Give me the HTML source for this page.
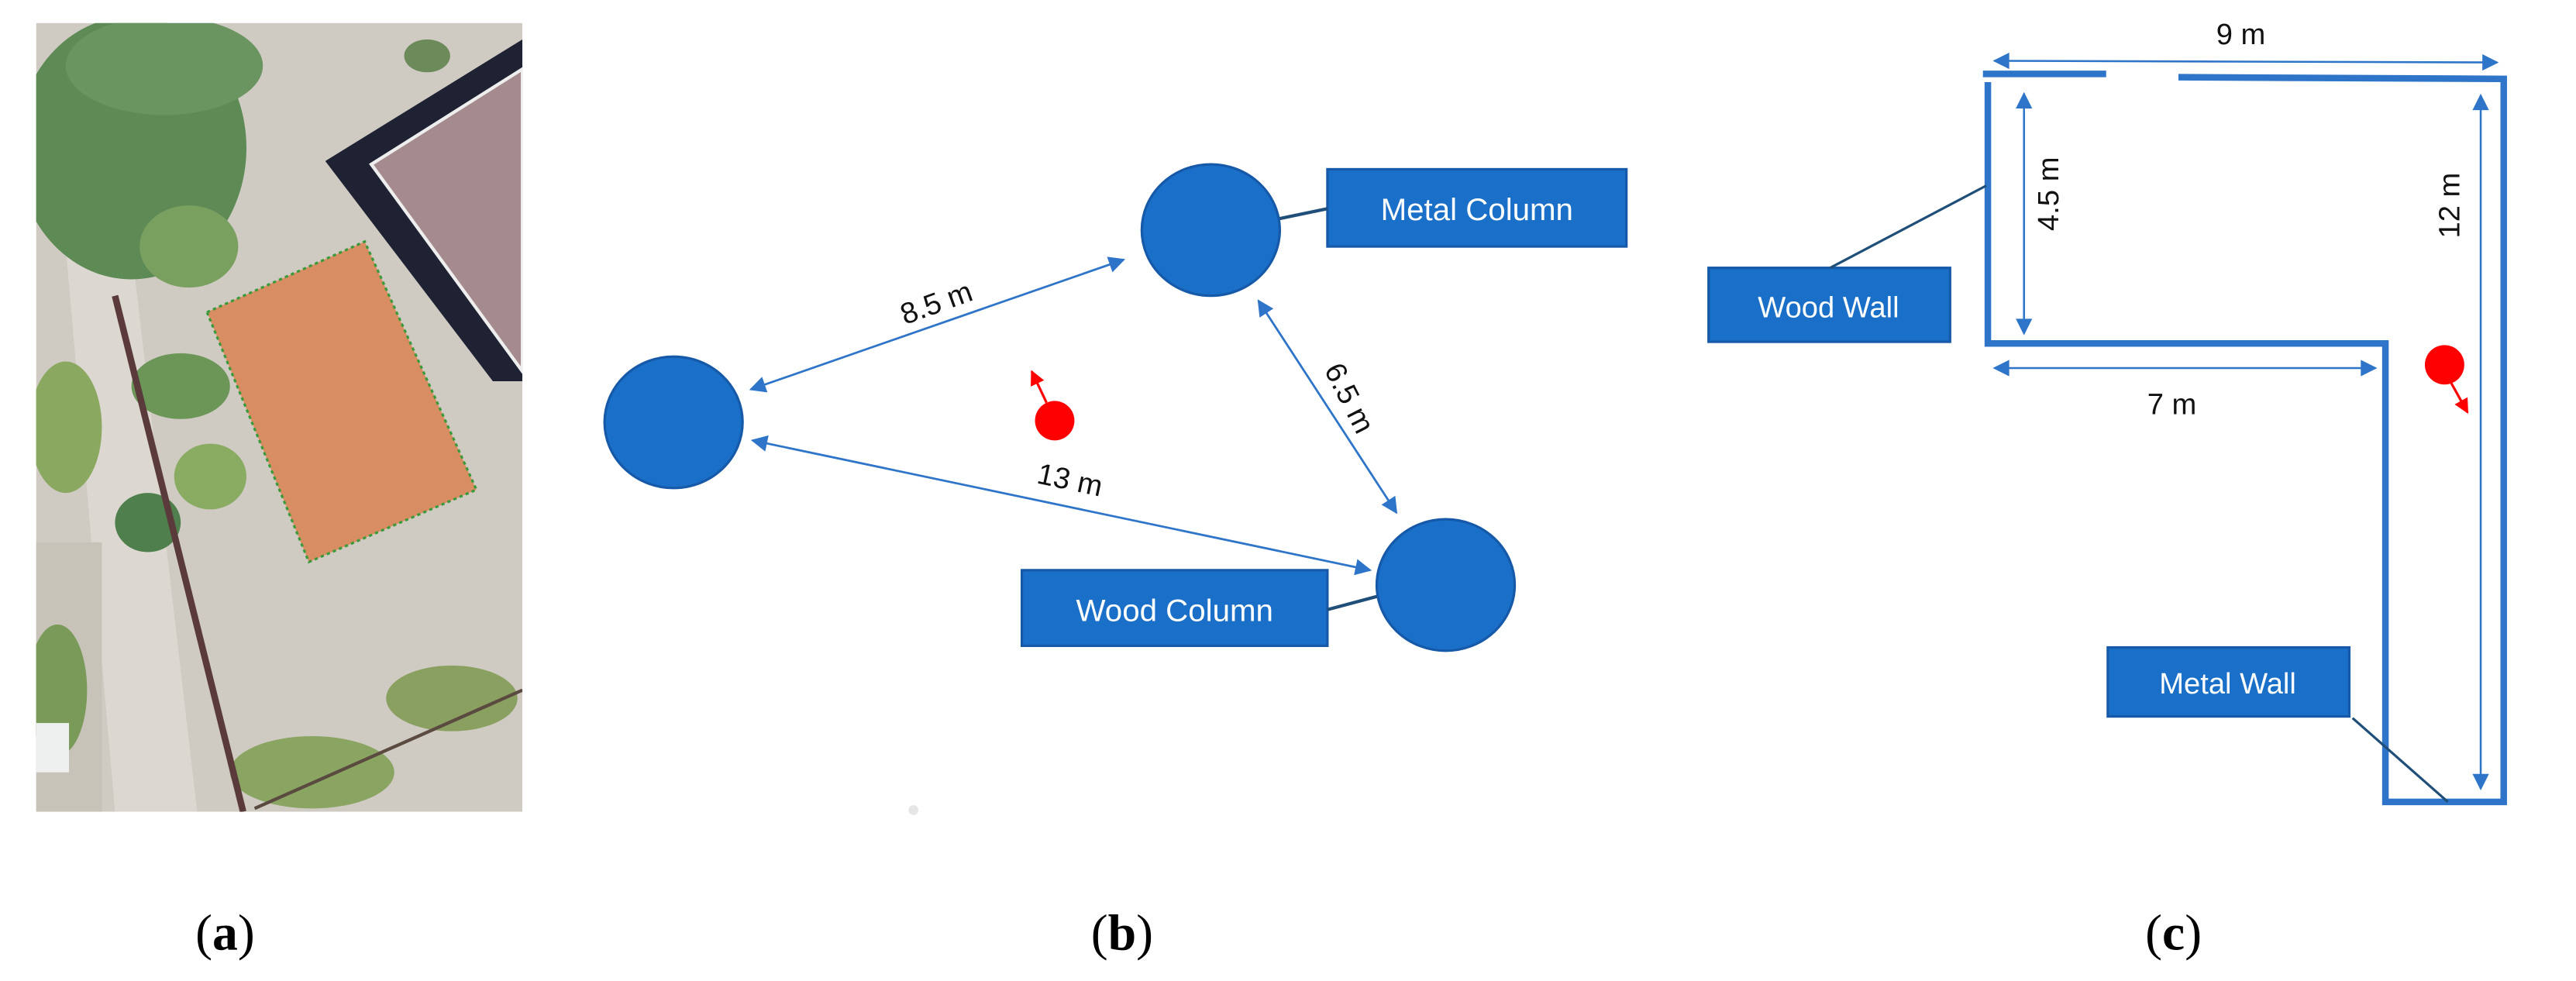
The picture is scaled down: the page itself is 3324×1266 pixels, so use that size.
<!DOCTYPE html>
<html><head><meta charset="utf-8"><style>
html,body{margin:0;padding:0;background:#fff;}
svg{display:block;}
text{font-family:"Liberation Sans",sans-serif;}
</style></head><body>
<svg width="3324" height="1266" viewBox="0 0 1568 597" preserveAspectRatio="none" xmlns="http://www.w3.org/2000/svg">
<defs>
<marker id="ab" viewBox="0 0 10 10" refX="9" refY="5" markerUnits="userSpaceOnUse" markerWidth="11" markerHeight="10" orient="auto-start-reverse"><path d="M0,0 L10,5 L0,10 z" fill="#2e75c9"/></marker>
<marker id="ar" viewBox="0 0 10 10" refX="9" refY="5" markerUnits="userSpaceOnUse" markerWidth="10" markerHeight="9" orient="auto"><path d="M0,0 L10,5 L0,10 z" fill="#f00"/></marker>
<clipPath id="ph"><rect x="22" y="14" width="296" height="480"/></clipPath>
</defs>
<rect width="1568" height="597" fill="#fff"/>
<g clip-path="url(#ph)">
<rect x="22" y="14" width="296" height="480" fill="#cfcbc3"/>
<polygon points="40,150 80,150 120,494 70,494" fill="#dcd8d1"/>
<rect x="22" y="330" width="40" height="164" fill="#c8c3b9"/>
<ellipse cx="80" cy="90" rx="70" ry="80" fill="#5d8a55"/>
<ellipse cx="100" cy="40" rx="60" ry="30" fill="#6a9460"/>
<ellipse cx="115" cy="150" rx="30" ry="25" fill="#7aa060"/>
<ellipse cx="110" cy="235" rx="30" ry="20" fill="#6c9558"/>
<ellipse cx="128" cy="290" rx="22" ry="20" fill="#8aac62"/>
<ellipse cx="90" cy="318" rx="20" ry="18" fill="#4f7f4c"/>
<ellipse cx="40" cy="260" rx="22" ry="40" fill="#8aa860"/>
<ellipse cx="35" cy="420" rx="18" ry="40" fill="#7a9a5a"/>
<ellipse cx="190" cy="470" rx="50" ry="22" fill="#8aa462"/>
<ellipse cx="275" cy="425" rx="40" ry="20" fill="#8aa060"/>
<ellipse cx="260" cy="34" rx="14" ry="10" fill="#6c8a5a"/>
<line x1="70" y1="180" x2="148" y2="494" stroke="#5a3a3a" stroke-width="4"/>
<line x1="155" y1="492" x2="318" y2="420" stroke="#5a4a40" stroke-width="2"/>
<polygon points="198,98 318,24 318,232 300,232" fill="#1e2233"/>
<polygon points="226,100 318,42 318,226" fill="#a68b8e" stroke="#eee" stroke-width="2"/>
<polygon points="126,190 222,147 290,298 188,342" fill="#d98d62" stroke="#3a9a3a" stroke-width="1.5" stroke-dasharray="2,2"/>
<rect x="22" y="440" width="20" height="30" fill="#eef0f0"/>
</g>
<text x="137" y="578" text-anchor="middle" font-size="31" fill="#000" style="font-family:'Liberation Serif',serif">(<tspan font-weight="bold">a</tspan>)</text>
<text x="683" y="578" text-anchor="middle" font-size="31" fill="#000" style="font-family:'Liberation Serif',serif">(<tspan font-weight="bold">b</tspan>)</text>
<text x="1323" y="578" text-anchor="middle" font-size="31" fill="#000" style="font-family:'Liberation Serif',serif">(<tspan font-weight="bold">c</tspan>)</text>
<circle cx="556" cy="493" r="3" fill="#e6e6e6"/>
<g fill="#1a6fc8" stroke="#1559a8" stroke-width="1.5">
<ellipse cx="410" cy="257" rx="42" ry="40"/>
<ellipse cx="737" cy="140" rx="42" ry="40"/>
<ellipse cx="880" cy="356" rx="42" ry="40"/>
<rect x="808" y="103" width="182" height="47"/>
<rect x="622" y="347" width="186" height="46"/>
</g>
<line x1="779" y1="133" x2="808" y2="127" stroke="#1f4e79" stroke-width="2"/>
<line x1="808" y1="371" x2="838" y2="363" stroke="#1f4e79" stroke-width="2"/>
<text x="899" y="134" text-anchor="middle" font-size="19" fill="#fff">Metal Column</text>
<text x="715" y="378" text-anchor="middle" font-size="19" fill="#fff">Wood Column</text>
<g stroke="#2e75c9" stroke-width="1.3" marker-start="url(#ab)" marker-end="url(#ab)">
<line x1="457" y1="237" x2="684" y2="158"/>
<line x1="766" y1="183" x2="850" y2="312"/>
<line x1="458" y1="268" x2="834" y2="347"/>
</g>
<text x="572" y="190" text-anchor="middle" font-size="18" fill="#111" transform="rotate(-20 572 190)">8.5 m</text>
<text x="816" y="245" text-anchor="middle" font-size="18" fill="#111" transform="rotate(63 816 245)">6.5 m</text>
<text x="650" y="298" text-anchor="middle" font-size="18" fill="#111" transform="rotate(12 650 298)">13 m</text>
<circle cx="642" cy="256" r="12" fill="#f00"/>
<line x1="637" y1="245" x2="628" y2="226" stroke="#f00" stroke-width="1.5" marker-end="url(#ar)"/>
<g fill="none" stroke="#2e75c9" stroke-width="4">
<line x1="1207" y1="45" x2="1282" y2="45"/>
<polyline points="1326,47 1524,48 1524,488 1452,488 1452,209 1210,209 1210,50"/>
</g>
<g stroke="#2e75c9" stroke-width="1.2" marker-start="url(#ab)" marker-end="url(#ab)">
<line x1="1214" y1="37" x2="1520" y2="38"/>
<line x1="1232" y1="57" x2="1232" y2="203"/>
<line x1="1510" y1="58" x2="1510" y2="480"/>
<line x1="1214" y1="224" x2="1446" y2="224"/>
</g>
<text x="1364" y="27" text-anchor="middle" font-size="18" fill="#111">9 m</text>
<text x="1322" y="252" text-anchor="middle" font-size="18" fill="#111">7 m</text>
<text x="1253" y="118" text-anchor="middle" font-size="18" fill="#111" transform="rotate(-90 1253 118)">4.5 m</text>
<text x="1497" y="125" text-anchor="middle" font-size="18" fill="#111" transform="rotate(-90 1497 125)">12 m</text>
<g fill="#1a6fc8" stroke="#1559a8" stroke-width="1.5">
<rect x="1040" y="163" width="147" height="45"/>
<rect x="1283" y="394" width="147" height="42"/>
</g>
<line x1="1114" y1="163" x2="1209" y2="113" stroke="#1f4e79" stroke-width="1.5"/>
<line x1="1432" y1="437" x2="1490" y2="488" stroke="#1f4e79" stroke-width="1.5"/>
<text x="1113" y="193" text-anchor="middle" font-size="18" fill="#fff">Wood Wall</text>
<text x="1356" y="422" text-anchor="middle" font-size="18" fill="#fff">Metal Wall</text>
<circle cx="1488" cy="222" r="12" fill="#f00"/>
<line x1="1492" y1="233" x2="1502" y2="251" stroke="#f00" stroke-width="1.5" marker-end="url(#ar)"/>
</svg>
</body></html>
